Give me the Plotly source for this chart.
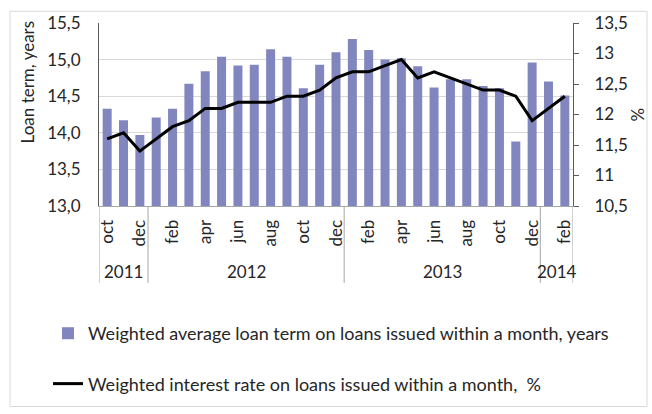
import plotly.graph_objects as go

months = ["oct", "nov", "dec",
          "jan", "feb", "mar", "apr", "may", "jun", "jul", "aug", "sep", "oct", "nov", "dec",
          "jan", "feb", "mar", "apr", "may", "jun", "jul", "aug", "sep", "oct", "nov", "dec",
          "jan", "feb"]
years = ["2011"] * 3 + ["2012"] * 12 + ["2013"] * 12 + ["2014"] * 2

loan_term = [14.33, 14.17, 13.97,
             14.21, 14.33, 14.67, 14.84, 15.04, 14.92, 14.93, 15.14, 15.04, 14.61, 14.93, 15.10,
             15.28, 15.13, 15.00, 15.02, 14.91, 14.62, 14.73, 14.73, 14.64, 14.61, 13.88, 14.96,
             14.70, 14.51]
interest_rate = [11.6, 11.7, 11.4,
                 11.6, 11.8, 11.9, 12.1, 12.1, 12.2, 12.2, 12.2, 12.3, 12.3, 12.4, 12.6,
                 12.7, 12.7, 12.8, 12.9, 12.6, 12.7, 12.6, 12.5, 12.4, 12.4, 12.3, 11.9,
                 12.1, 12.3]

bar_name = "Weighted average loan term on loans issued within a month, years"
line_name = "Weighted interest rate on loans issued within a month,  %"

W, H = 652, 414
L, R, T, B = 99, 573, 18, 206  # plot area in px
pw, ph = R - L, B - T

def px_x(x):
    return (x - L) / pw

def px_y(y):
    return (B - y) / ph

FONT = "Lato"
TXT = "#262626"
idx = list(range(len(months)))

fig = go.Figure()
fig.add_trace(go.Bar(x=idx, y=loan_term, name=bar_name, marker_color="#8186BF",
                     marker_line_width=0, legendgroup="a", yaxis="y"))
fig.add_trace(go.Scatter(x=idx, y=interest_rate, name=line_name, mode="lines",
                         line=dict(color="black", width=3), legendgroup="b", yaxis="y2"))

shapes = []
annotations = []
bounds = [0]
for i in range(1, len(years)):
    if years[i] != years[i - 1]:
        bounds.append(i)
bounds.append(len(years))
for b in bounds:
    shapes.append(dict(type="line", xref="x", yref="paper", x0=b - 0.5, x1=b - 0.5,
                       y0=0, y1=px_y(285), line=dict(color="#a6a6a6", width=1)))
for a, b in zip(bounds[:-1], bounds[1:]):
    annotations.append(dict(x=(a + b - 1) / 2, y=px_y(273), xref="x", yref="paper",
                            text=years[a], showarrow=False, yanchor="middle",
                            font=dict(size=17, color=TXT, family=FONT)))

shapes.append(dict(type="rect", xref="paper", yref="paper",
                   x0=px_x(10), x1=px_x(647), y0=px_y(412), y1=px_y(6),
                   line=dict(color="#d9d9d9", width=1), fillcolor="rgba(0,0,0,0)", layer="below"))

annotations.append(dict(x=px_x(27), y=px_y(79), xref="paper", yref="paper",
                        text="Loan term, years", textangle=-90, showarrow=False,
                        xanchor="center", yanchor="middle",
                        font=dict(size=17, color=TXT, family=FONT)))
annotations.append(dict(x=px_x(637), y=px_y(112), xref="paper", yref="paper",
                        text="%", textangle=-90, showarrow=False,
                        xanchor="center", yanchor="middle",
                        font=dict(size=17, color=TXT, family=FONT)))

tick_idx = idx[::2]
fig.update_layout(
    width=W, height=H,
    margin=dict(l=L, r=W - R, t=T, b=H - B),
    paper_bgcolor="white", plot_bgcolor="white",
    separators=", ",
    font=dict(family=FONT, size=17, color=TXT),
    bargap=0.45,
    showlegend=True,
    legend=dict(x=px_x(48), y=px_y(318), xanchor="left", yanchor="top",
                traceorder="grouped", tracegroupgap=24, itemwidth=30,
                font=dict(size=18, color=TXT, family=FONT),
                bgcolor="rgba(0,0,0,0)"),
    xaxis=dict(range=[-0.5, len(months) - 0.5], tickmode="array", tickvals=tick_idx,
               ticktext=[months[i] for i in tick_idx], tickangle=-90,
               showgrid=False, showline=True, linecolor="#a6a6a6", linewidth=1,
               ticks="", zeroline=False, ticklabelstandoff=6,
               tickfont=dict(size=17)),
    yaxis=dict(range=[13, 15.5], dtick=0.5, tickformat=".1f", showgrid=True,
               gridcolor="#d9d9d9", gridwidth=1, showline=True, linecolor="#595959",
               linewidth=1, ticks="", zeroline=False, ticklabelstandoff=14,
               tickfont=dict(size=17)),
    yaxis2=dict(range=[10.5, 13.5], dtick=0.5, overlaying="y", side="right",
                showgrid=False, showline=True, linecolor="#595959", linewidth=1,
                ticks="outside", ticklen=5, tickcolor="#595959", zeroline=False,
                ticklabelstandoff=12, tickfont=dict(size=17)),
    shapes=shapes, annotations=annotations,
)

fig.write_html("out.html")
